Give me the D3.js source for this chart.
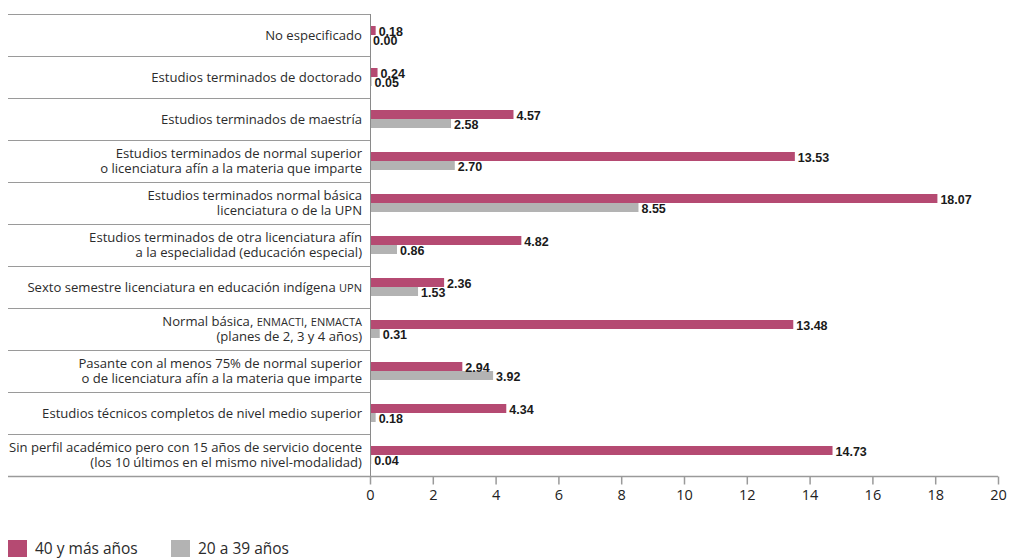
<!DOCTYPE html>
<html>
<head>
<meta charset="utf-8">
<script src="https://cdn.jsdelivr.net/npm/d3@7"></script>
<style>
  body { margin: 0; background: #fff; }
  svg { display: block; }
  text { font-family: "Open Sans", "Liberation Sans", Arial, sans-serif; }
</style>
</head>
<body>
<div class="container"></div>
<script>
// labels: each entry is a list of lines; parts in {} are drawn in small caps
const categories = [
    ['No especificado'],
    ['Estudios terminados de doctorado'],
    ['Estudios terminados de maestría'],
    ['Estudios terminados de normal superior', 'o licenciatura afín a la materia que imparte'],
    ['Estudios terminados normal básica', 'licenciatura o de la UPN'],
    ['Estudios terminados de otra licenciatura afín', 'a la especialidad (educación especial)'],
    ['Sexto semestre licenciatura en educación indígena {UPN}'],
    ['Normal básica, {ENMACTI}, {ENMACTA}', '(planes de 2, 3 y 4 años)'],
    ['Pasante con al menos 75% de normal superior', 'o de licenciatura afín a la materia que imparte'],
    ['Estudios técnicos completos de nivel medio superior'],
    ['Sin perfil académico pero con 15 años de servicio docente', '(los 10 últimos en el mismo nivel-modalidad)']
];
const seriesNames = ['40 y más años', '20 a 39 años'];
const olderValues = [0.18, 0.24, 4.57, 13.53, 18.07, 4.82, 2.36, 13.48, 2.94, 4.34, 14.73];
const youngerValues = [0.00, 0.05, 2.58, 2.70, 8.55, 0.86, 1.53, 0.31, 3.92, 0.18, 0.04];
const xTicks = [0, 2, 4, 6, 8, 10, 12, 14, 16, 18, 20];
const colors = ['#b54a72', '#b3b3b3'];

const w = 1010;
const h = 558;
const margin = { top: 14, right: 12, bottom: 82, left: 370 };
const labelLeft = 8;

const rows = categories.map((c, i) => ({
    id: i,
    lines: c,
    values: [olderValues[i], youngerValues[i]]
}));

const svg = d3.select('.container')
    .append('svg')
    .attr('width', w)
    .attr('height', h);

const x = d3.scaleLinear()
    .domain([0, 20])
    .range([margin.left, 998]);

const y = d3.scaleBand()
    .domain(rows.map(d => d.id))
    .range([margin.top, h - margin.bottom])
    .padding(0);

const ySub = d3.scaleBand()
    .domain([0, 1])
    .range([-9, 9]);

const color = d3.scaleOrdinal([0, 1], colors);

// row separators
svg.append('g')
    .selectAll('line')
    .data(d3.range(rows.length + 1))
    .join('line')
    .attr('x1', labelLeft)
    .attr('x2', margin.left)
    .attr('y1', i => i < rows.length ? y(i) + 0.5 : y(rows.length - 1) + y.bandwidth() + 0.5)
    .attr('y2', i => i < rows.length ? y(i) + 0.5 : y(rows.length - 1) + y.bandwidth() + 0.5)
    .attr('stroke', '#9a9a9a')
    .attr('stroke-width', 1);

// category labels
const labelG = svg.append('g');
rows.forEach(r => {
    const cy = y(r.id) + y.bandwidth() / 2;
    const n = r.lines.length;
    r.lines.forEach((line, li) => {
        const t = labelG.append('text')
            .attr('x', 362)
            .attr('y', cy + (li - (n - 1) / 2) * 15)
            .attr('dy', '0.35em')
            .attr('text-anchor', 'end')
            .style('font-size', '13.1px')
            .attr('fill', '#2b2b2b');
        line.split(/(\{[^}]*\})/).filter(s => s.length).forEach(part => {
            if (part.startsWith('{')) {
                t.append('tspan').style('font-size', '11px').text(part.slice(1, -1));
            } else {
                t.append('tspan').text(part);
            }
        });
    });
});

// bars
const group = svg.append('g')
    .selectAll('g')
    .data(rows)
    .join('g')
    .attr('transform', d => `translate(0, ${y(d.id) + y.bandwidth() / 2})`);

group.selectAll('rect')
    .data(d => d.values.map((v, k) => ({ k, v })))
    .join('rect')
    .attr('x', x(0))
    .attr('y', d => ySub(d.k))
    .attr('width', d => x(d.v) - x(0))
    .attr('height', ySub.bandwidth())
    .attr('fill', d => color(d.k));

group.selectAll('text')
    .data(d => d.values.map((v, k) => ({ k, v })))
    .join('text')
    .attr('x', d => x(d.v) + 3)
    .attr('y', d => ySub(d.k) + ySub.bandwidth() + 1)
    .style('font-family', '"Liberation Sans", Arial, sans-serif')
    .style('font-size', '12.5px')
    .style('font-weight', 'bold')
    .attr('fill', '#1a1a1a')
    .text(d => d.v.toFixed(2));

// vertical axis line
svg.append('line')
    .attr('x1', x(0) + 0.5)
    .attr('x2', x(0) + 0.5)
    .attr('y1', margin.top)
    .attr('y2', h - margin.bottom)
    .attr('stroke', '#8a8a8a');

// x axis
const xAxis = svg.append('g')
    .attr('transform', `translate(0, ${h - margin.bottom + 0.5})`)
    .call(d3.axisBottom(x).tickValues(xTicks).tickSize(8).tickPadding(5).tickSizeOuter(0));

xAxis.select('.domain')
    .attr('d', `M${labelLeft},0H${x(20)}`)
    .attr('stroke', '#9a9a9a')
    .attr('stroke-width', 1.5);
xAxis.selectAll('.tick line').attr('stroke', '#9a9a9a').attr('stroke-width', 1.5);
xAxis.selectAll('.tick text')
    .style('font-family', '"Open Sans", "Liberation Sans", Arial, sans-serif')
    .style('font-size', '14.5px')
    .attr('fill', '#222');

// legend
const legend = svg.append('g')
    .attr('transform', `translate(${labelLeft}, 540)`);
const legendItem = legend.selectAll('g')
    .data(seriesNames)
    .join('g')
    .attr('transform', (d, i) => `translate(${i * 163}, 0)`);
legendItem.append('rect')
    .attr('width', 19)
    .attr('height', 17)
    .attr('fill', (d, i) => color(i));
legendItem.append('text')
    .attr('x', 27)
    .attr('y', 9)
    .attr('dy', '0.35em')
    .style('font-size', '15.5px')
    .attr('fill', '#2b2b2b')
    .text(d => d);
</script>
</body>
</html>
